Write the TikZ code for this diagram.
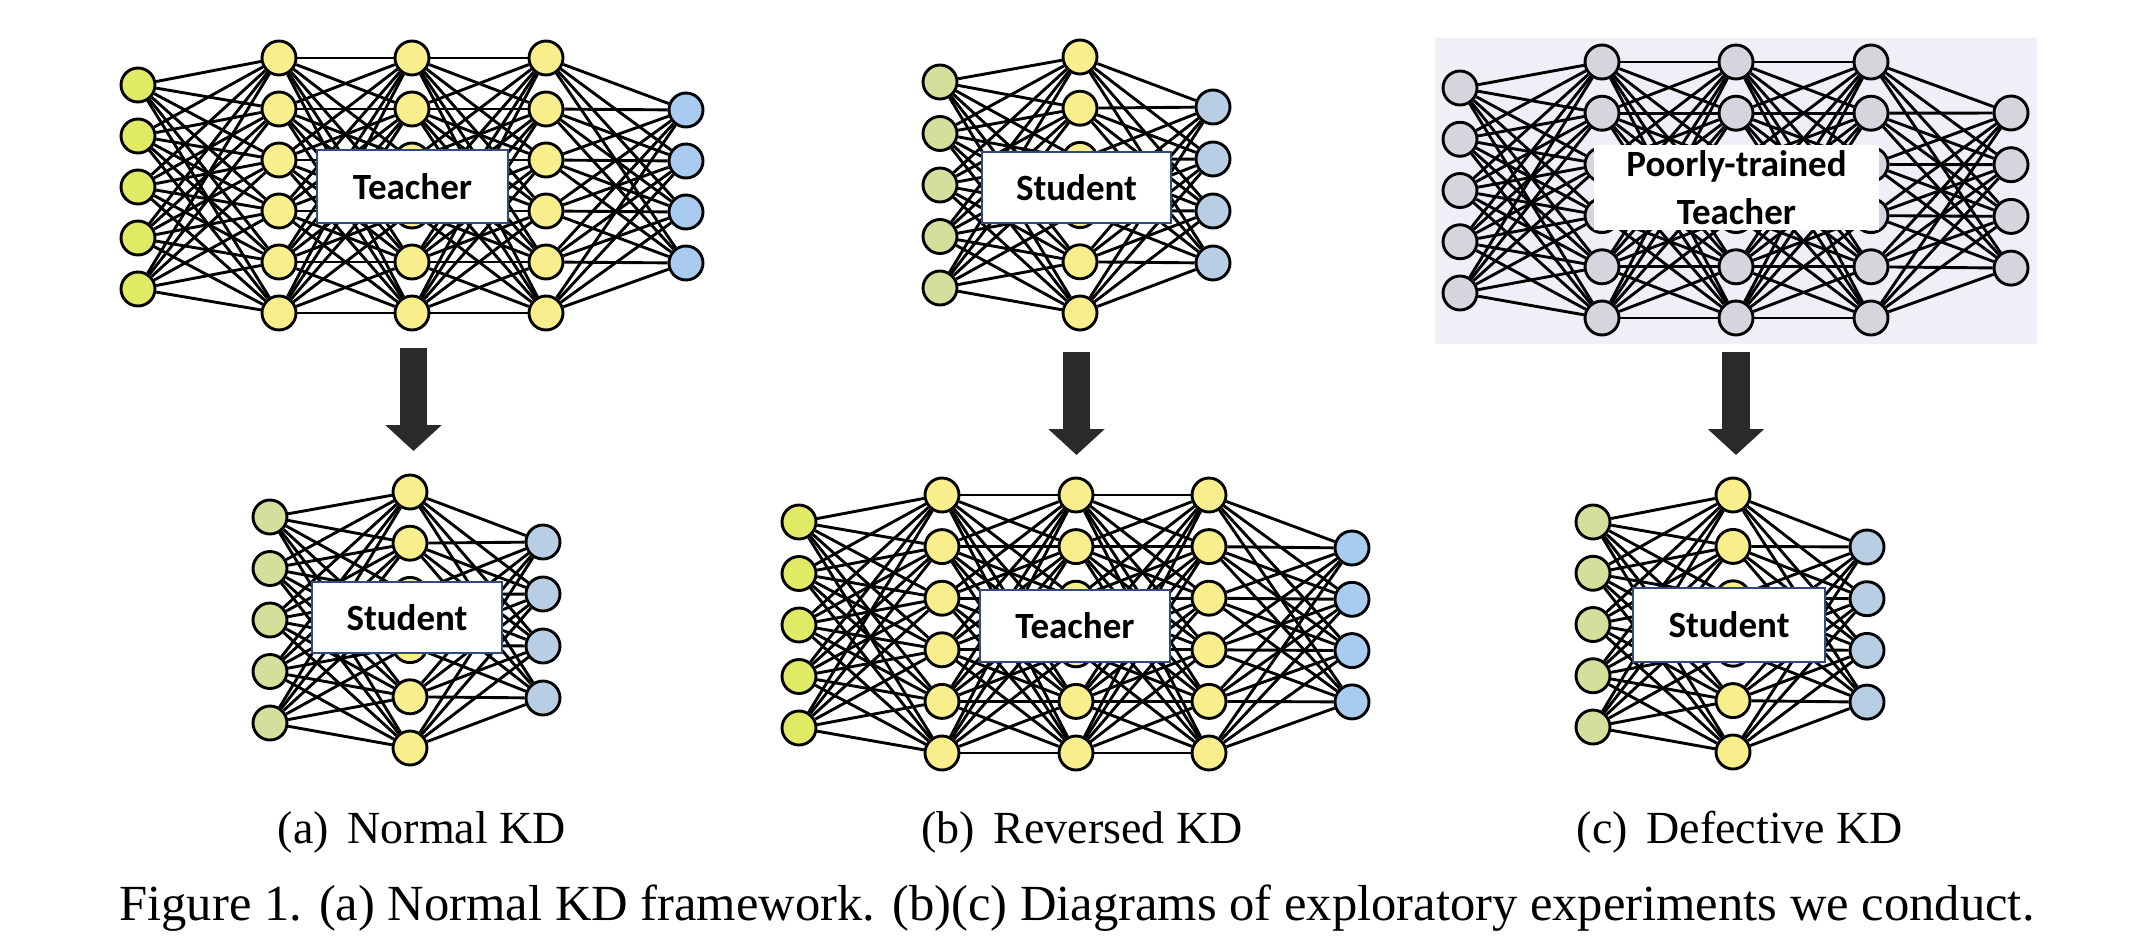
\documentclass[tikz,border=0pt]{standalone}
\usepackage{fontspec}
\setmainfont{Liberation Serif}
\newfontfamily\labfont{Carlito}
\usetikzlibrary{arrows.meta}
\pgfdeclarelayer{bg}
\pgfdeclarelayer{edges}
\pgfsetlayers{bg,edges,main}

\definecolor{inT}{HTML}{E1EA64}
\definecolor{hid}{HTML}{F8EE8C}
\definecolor{outT}{HTML}{A9CBF0}
\definecolor{inS}{HTML}{D5DF9C}
\definecolor{outS}{HTML}{B8CEE4}
\definecolor{grayn}{HTML}{D5D5DD}
\definecolor{panel}{HTML}{EFEFF7}
\definecolor{boxline}{HTML}{33497A}
\definecolor{arrowc}{HTML}{2B2A29}

\tikzset{
  neuron/.style={circle, draw=black, line width=2.9pt, minimum size=34pt, inner sep=0pt},
  edge/.style={draw=black, line width=2.9pt},
  labelbox/.style={draw=boxline, line width=2pt, fill=white, inner sep=0pt,
    font=\labfont\bfseries\fontsize{37}{44}\selectfont},
  plainbox/.style={fill=white, inner sep=0pt, align=center,
    font=\labfont\bfseries\fontsize{37}{48}\selectfont},
  bigarrow/.style={draw=arrowc, line width=27pt, -{Triangle[width=55pt,length=26pt]}},
  subcap/.style={anchor=base, inner sep=0pt, font=\fontsize{46}{54}\selectfont},
  figcap/.style={anchor=base, inner sep=0pt, font=\fontsize{50.6}{60}\selectfont},
}

% #1 prefix, #2 x, #3 top y, #4 count, #5 spacing, #6 fill
\newcommand{\nnlayer}[6]{%
  \foreach \k in {1,...,#4}{\node[neuron, fill=#6] (#1-\k) at (#2, {#3+(\k-1)*#5}) {};}}
% full connection between two layers
\newcommand{\nnlink}[4]{%
  \begin{pgfonlayer}{edges}
    \foreach \p in {1,...,#2}{\foreach \q in {1,...,#4}{\draw[edge] (#1-\p) -- (#3-\q);}}
  \end{pgfonlayer}}

\begin{document}
\begin{tikzpicture}[x=1pt,y=-1pt]
\useasboundingbox (0,0) rectangle (2154,948);

% ---------- (a) Teacher ----------
\nnlayer{ta0}{138}{85}{5}{51}{inT}
\nnlayer{ta1}{279}{58}{6}{51}{hid}
\nnlayer{ta2}{412}{58}{6}{51}{hid}
\nnlayer{ta3}{546}{58}{6}{51}{hid}
\nnlayer{ta4}{686}{110}{4}{51}{outT}
\nnlink{ta0}{5}{ta1}{6}
\nnlink{ta1}{6}{ta2}{6}
\nnlink{ta2}{6}{ta3}{6}
\nnlink{ta3}{6}{ta4}{4}
\node[labelbox, minimum width=191pt, minimum height=73pt] (ta-lab) at (412.5,186.5) {Teacher};

% ---------- (a) Student ----------
\nnlayer{sa0}{270}{517}{5}{51.5}{inS}
\nnlayer{sa1}{410}{492}{6}{51.2}{hid}
\nnlayer{sa2}{543}{542}{4}{52}{outS}
\nnlink{sa0}{5}{sa1}{6}
\nnlink{sa1}{6}{sa2}{4}
\node[labelbox, minimum width=190pt, minimum height=71pt] (sa-lab) at (407,617.5) {Student};

% ---------- (b) Student ----------
\nnlayer{sb0}{940}{82}{5}{51.5}{inS}
\nnlayer{sb1}{1080}{57}{6}{51.2}{hid}
\nnlayer{sb2}{1213}{107}{4}{52}{outS}
\nnlink{sb0}{5}{sb1}{6}
\nnlink{sb1}{6}{sb2}{4}
\node[labelbox, minimum width=189pt, minimum height=71pt] (sb-lab) at (1076.5,187.5) {Student};

% ---------- (b) Teacher ----------
\nnlayer{tb0}{799}{522}{5}{51.5}{inT}
\nnlayer{tb1}{942}{495}{6}{51.6}{hid}
\nnlayer{tb2}{1076}{495}{6}{51.6}{hid}
\nnlayer{tb3}{1209}{495}{6}{51.6}{hid}
\nnlayer{tb4}{1352}{548}{4}{51.3}{outT}
\nnlink{tb0}{5}{tb1}{6}
\nnlink{tb1}{6}{tb2}{6}
\nnlink{tb2}{6}{tb3}{6}
\nnlink{tb3}{6}{tb4}{4}
\node[labelbox, minimum width=190pt, minimum height=72pt] (tb-lab) at (1075,626) {Teacher};

% ---------- (c) Poorly-trained Teacher ----------
\begin{pgfonlayer}{bg}
  \fill[panel] (1435,38) rectangle (2037,344);
\end{pgfonlayer}
\nnlayer{tc0}{1460}{88}{5}{51.25}{grayn}
\nnlayer{tc1}{1602}{62}{6}{51.2}{grayn}
\nnlayer{tc2}{1736}{62}{6}{51.2}{grayn}
\nnlayer{tc3}{1871}{62}{6}{51.2}{grayn}
\nnlayer{tc4}{2011}{113}{4}{51.7}{grayn}
\nnlink{tc0}{5}{tc1}{6}
\nnlink{tc1}{6}{tc2}{6}
\nnlink{tc2}{6}{tc3}{6}
\nnlink{tc3}{6}{tc4}{4}
\node[plainbox, minimum width=285pt, minimum height=85pt] (tc-lab) at (1736.5,187.5) {Poorly-trained\\Teacher};

% ---------- (c) Student ----------
\nnlayer{sc0}{1593}{522}{5}{51.25}{inS}
\nnlayer{sc1}{1733}{495}{6}{51.4}{hid}
\nnlayer{sc2}{1867}{547}{4}{51.7}{outS}
\nnlink{sc0}{5}{sc1}{6}
\nnlink{sc1}{6}{sc2}{4}
\node[labelbox, minimum width=192pt, minimum height=74pt] (sc-lab) at (1729,625) {Student};

% ---------- arrows ----------
\coordinate (arrA-s) at (413.5,348);
\coordinate (arrA-e) at (413.5,451);
\coordinate (arrB-s) at (1076.5,352);
\coordinate (arrB-e) at (1076.5,455);
\coordinate (arrC-s) at (1736,352);
\coordinate (arrC-e) at (1736,455);
\draw[bigarrow] (arrA-s) -- (arrA-e);
\draw[bigarrow] (arrB-s) -- (arrB-e);
\draw[bigarrow, line width=28pt] (arrC-s) -- (arrC-e);

% ---------- captions ----------
\node[subcap] (cap-a) at (422,843) {(a)\hspace{7pt} Normal KD};
\node[subcap] (cap-b) at (1082,843) {(b)\hspace{7pt} Reversed KD};
\node[subcap] (cap-c) at (1740,843) {(c)\hspace{7pt} Defective KD};
\node[figcap] (fig-cap) at (1077,920) {Figure 1. (a) Normal KD framework. (b)(c) Diagrams of exploratory experiments we conduct.};
\end{tikzpicture}
\end{document}
